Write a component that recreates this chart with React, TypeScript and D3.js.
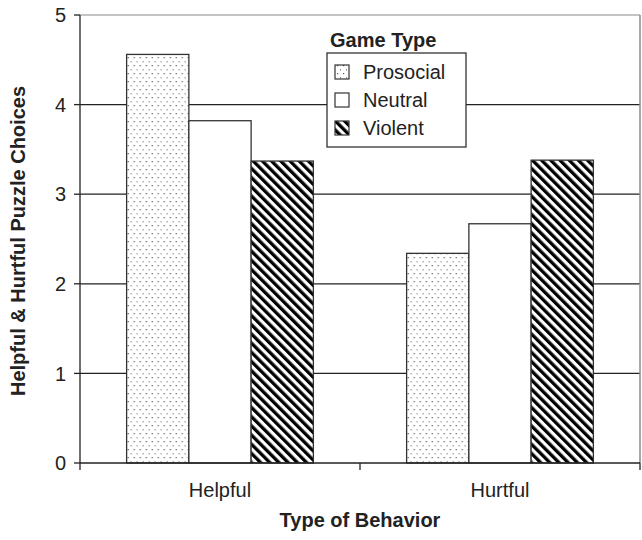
import React from "react";
import * as d3 from "d3";

const categories = ["Helpful", "Hurtful"];
const series = ["Prosocial", "Neutral", "Violent"];
const prosocialValues = [4.56, 2.34];
const neutralValues = [3.82, 2.67];
const violentValues = [3.37, 3.38];
const yTicks = [0, 1, 2, 3, 4, 5];

const W = 642, H = 540;
const left = 80, right = 640, top = 15, bottom = 463;
const font = "Liberation Sans, Arial, sans-serif";

export default function App() {
  const values = [prosocialValues, neutralValues, violentValues];
  const x0 = d3.scaleBand<string>().domain(categories).range([left, right]).paddingInner(0.333).paddingOuter(0.1665);
  const x1 = d3.scaleBand<string>().domain(series).range([0, x0.bandwidth()]);
  const y = d3.scaleLinear().domain([0, 5]).range([bottom, top]);
  const fills = ["url(#dots)", "#ffffff", "url(#stripes)"];
  const outer = d3.scaleBand<string>().domain(categories).range([left, right]);

  return (
    <svg width={W} height={H} style={{ position: "absolute", left: 0, top: 0 }} fontFamily={font}>
      <defs>
        <pattern id="dots" width="6" height="8" patternUnits="userSpaceOnUse">
          <rect width="6" height="8" fill="#fff" />
          <rect x="1" y="1" width="1.2" height="1.2" fill="#555" />
          <rect x="4" y="5" width="1" height="1.5" fill="#888" />
        </pattern>
        <pattern id="stripes" width="6.5" height="6.5" patternUnits="userSpaceOnUse" patternTransform="rotate(-45)">
          <rect width="6.5" height="6.5" fill="#fff" />
          <rect x="0" y="0" width="3.3" height="6.5" fill="#000" />
        </pattern>
      </defs>
      {/* grid lines */}
      {yTicks.filter(t => t > 0).map(t => (
        <line key={t} x1={left} x2={right} y1={y(t)} y2={y(t)} stroke={t === 5 ? "#8a8a8a" : "#222"} strokeWidth={1.2} />
      ))}
      <line x1={right} x2={right} y1={top} y2={bottom} stroke="#8a8a8a" strokeWidth={1.5} />
      {/* bars */}
      {categories.map((c, ci) => (
        <g key={c} transform={`translate(${x0(c)},0)`}>
          {series.map((s, si) => (
            <rect key={s} x={x1(s)} y={y(values[si][ci])} width={x1.bandwidth()} height={bottom - y(values[si][ci])}
              fill={fills[si]} stroke="#333" strokeWidth={1.3} />
          ))}
        </g>
      ))}
      {/* axes */}
      <line x1={left} x2={left} y1={top} y2={bottom + 7} stroke="#222" strokeWidth={1.3} />
      <line x1={left} x2={right} y1={bottom} y2={bottom} stroke="#222" strokeWidth={1.3} />
      {yTicks.map(t => (
        <g key={t}>
          <line x1={left - 6} x2={left} y1={y(t)} y2={y(t)} stroke="#222" strokeWidth={1.3} />
          <text x={left - 14} y={y(t)} dy="0.36em" textAnchor="end" fontSize={20} fill="#222">{t}</text>
        </g>
      ))}
      {categories.map(c => (outer(c) as number) + outer.bandwidth()).map((xv, i) => (
        <line key={i} x1={xv} x2={xv} y1={bottom} y2={bottom + 7} stroke="#222" strokeWidth={1.3} />
      ))}
      {categories.map(c => (
        <text key={c} x={(x0(c) as number) + x0.bandwidth() / 2} y={497} textAnchor="middle" fontSize={20} fill="#222">{c}</text>
      ))}
      <text x={(left + right) / 2} y={527} textAnchor="middle" fontSize={20} fontWeight="bold" fill="#222">Type of Behavior</text>
      <text transform={`translate(25,${(top + bottom) / 2 + 2}) rotate(-90)`} textAnchor="middle" fontSize={20} fontWeight="bold" fill="#222">Helpful &amp; Hurtful Puzzle Choices</text>
      {/* legend */}
      <text x={330} y={47} fontSize={20} fontWeight="bold" fill="#222">Game Type</text>
      <rect x={327} y={53} width={139} height={94} fill="#fff" stroke="#333" strokeWidth={1.3} />
      {series.map((s, i) => (
        <g key={s} transform={`translate(0,${72 + i * 28})`}>
          <rect x={335} y={-7} width={14} height={14} fill={fills[i]} stroke="#333" strokeWidth={1.2} />
          <text x={363} y={0} dy="0.36em" fontSize={20} fill="#222">{s}</text>
        </g>
      ))}
    </svg>
  );
}
